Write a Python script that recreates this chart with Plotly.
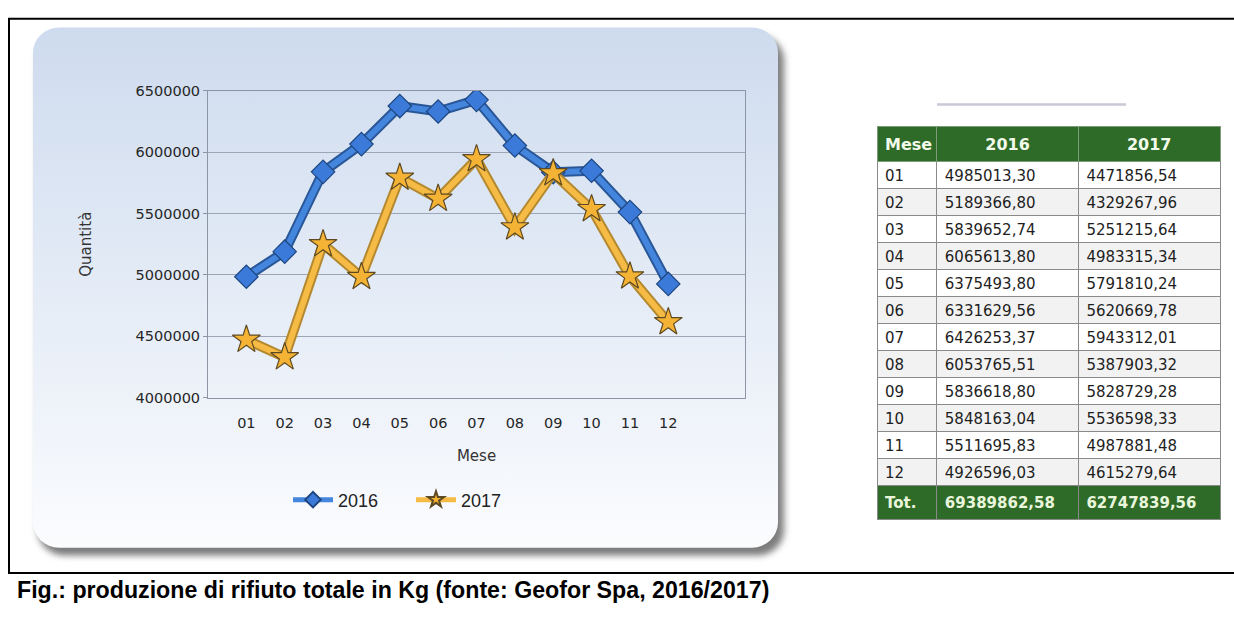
import base64
import plotly.graph_objects as go

W, H = 1234, 618

# Monthly waste production (kg)
months = ["01", "02", "03", "04", "05", "06", "07", "08", "09", "10", "11", "12"]
q2016 = [4985013.30, 5189366.80, 5839652.74, 6065613.80, 6375493.80, 6331629.56,
         6426253.37, 6053765.51, 5836618.80, 5848163.04, 5511695.83, 4926596.03]
q2017 = [4471856.54, 4329267.96, 5251215.64, 4983315.34, 5791810.24, 5620669.78,
         5943312.01, 5387903.32, 5828729.28, 5536598.33, 4987881.48, 4615279.64]
years = ["2016", "2017"]
y_ticks = [4000000, 4500000, 5000000, 5500000, 6000000, 6500000]
caption = "Fig.: produzione di rifiuto totale in Kg (fonte: Geofor Spa, 2016/2017)"


def px(x):
    return x / W


def py(y):
    return 1 - y / H


def fmt(v):
    return f"{v:.2f}".replace(".", ",")


def bold(s):
    return "<b>" + s + "</b>"


xpos = [i + 1 for i in range(len(months))]

fig = go.Figure()

# 2016: dark outline under a lighter line, diamond markers
fig.add_trace(go.Scatter(x=xpos, y=q2016, mode="lines", showlegend=False,
                         line=dict(color="#2a5797", width=10), hoverinfo="skip"))
fig.add_trace(go.Scatter(x=xpos, y=q2016, mode="lines+markers", name=years[0],
                         line=dict(color="#4485de", width=6),
                         marker=dict(symbol="diamond", size=18, color="#3b7ad8",
                                     line=dict(color="#1d4680", width=1.2))))
# 2017: orange line, star markers
fig.add_trace(go.Scatter(x=xpos, y=q2017, mode="lines", showlegend=False,
                         line=dict(color="#b4892f", width=10), hoverinfo="skip"))
fig.add_trace(go.Scatter(x=xpos, y=q2017, mode="lines+markers", name=years[1],
                         line=dict(color="#f6bb45", width=6),
                         marker=dict(symbol="star", size=21, color="#f5b336",
                                     line=dict(color="#5e4a22", width=1.2))))

# Side table
rows_mese = months + [bold("Tot.")]
col16 = [fmt(v) for v in q2016] + [bold(fmt(round(sum(q2016), 2)))]
col17 = [fmt(v) for v in q2017] + [bold(fmt(round(sum(q2017), 2)))]
green = "#2e6b28"
row_fill = [("#ffffff" if i % 2 == 0 else "#f2f2f2") for i in range(len(months))] + [green]
row_font = ["#1e1e1e"] * len(months) + ["#eaf6dc"]

fig.add_trace(go.Table(
    domain=dict(x=[px(877), px(1221)], y=[py(560), py(122)]),
    columnwidth=[60, 142, 142],
    header=dict(values=[bold("Mese"), bold(years[0]), bold(years[1])],
                fill_color=green, align=["left", "center", "center"],
                font=dict(family="DejaVu Sans", size=16, color="#f2faea"),
                line=dict(color="#7f9a7a", width=1), height=24),
    cells=dict(values=[rows_mese, col16, col17],
               fill_color=[row_fill] * 3, align="left",
               font=dict(family="DejaVu Sans", size=15, color=[row_font] * 3),
               line=dict(color="#8a8a8a", width=1), height=27),
))

# Rounded panel with gradient and drop shadow behind the chart
svg = f'''<svg xmlns="http://www.w3.org/2000/svg" width="{W}" height="{H}" viewBox="0 0 {W} {H}">
<defs>
<linearGradient id="g" x1="0" y1="0" x2="0" y2="1">
<stop offset="0" stop-color="#cedbee"/><stop offset="0.55" stop-color="#e6edf7"/><stop offset="1" stop-color="#fbfcfe"/>
</linearGradient>
<filter id="s" x="-5%" y="-5%" width="112%" height="115%"><feGaussianBlur stdDeviation="3.5"/></filter>
</defs>
<rect x="38" y="28" width="746" height="534" rx="26" fill="#7d7d7d" filter="url(#s)"/>
<rect x="33" y="20" width="745" height="534" rx="26" fill="url(#g)"/>
<line x1="937" y1="99" x2="1126" y2="99" stroke="#c9c9d6" stroke-width="2.5"/>
</svg>'''
src = "data:image/svg+xml;base64," + base64.b64encode(svg.encode()).decode()

grid = "#9ea6b6"
axis_font = dict(family="DejaVu Sans", size=14.5, color="#262626")
title_font = dict(family="DejaVu Sans", size=15, color="#333")

fig.update_layout(
    width=W, height=H,
    margin=dict(l=0, r=0, t=0, b=0),
    paper_bgcolor="white", plot_bgcolor="rgba(0,0,0,0)",
    images=[dict(source=src, xref="paper", yref="paper", x=0, y=1, sizex=1, sizey=1,
                 xanchor="left", yanchor="top", sizing="stretch", layer="below")],
    xaxis=dict(domain=[px(208), px(745)], range=[0, 14], tickmode="array",
               tickvals=xpos, ticktext=months, showgrid=False, zeroline=False,
               showline=True, linecolor="#8d94a3", mirror=True, ticks="",
               ticklabelstandoff=12, tickfont=axis_font,
               title=dict(text="Mese", font=title_font, standoff=20)),
    xaxis2=dict(overlaying="x", domain=[px(208), px(745)], range=[0, 14], dtick=2, tick0=0,
                showgrid=True, gridcolor=grid, gridwidth=1, showticklabels=False,
                zeroline=False, anchor="y"),
    yaxis=dict(domain=[py(400), py(85)], range=[4000000, 6500000], tickmode="array",
               tickvals=y_ticks, tickformat="d", showgrid=True, gridcolor=grid,
               zeroline=False, showline=True, linecolor="#8d94a3", mirror=True,
               ticks="outside", ticklen=4, tickcolor="#8d94a3", tickfont=axis_font,
               title=dict(text="Quantità", font=title_font, standoff=40)),
    legend=dict(orientation="h", x=px(288), y=py(505), xanchor="left", yanchor="middle",
                bgcolor="rgba(0,0,0,0)", itemsizing="constant",
                font=dict(family="Liberation Sans Narrow, Liberation Sans", size=18, color="#222"),
                itemwidth=40, entrywidth=68),
    annotations=[dict(text="<b>" + caption + "</b>", xref="paper", yref="paper",
                      x=px(15), y=py(597), xanchor="left", yanchor="middle", showarrow=False,
                      font=dict(family="Liberation Sans", size=23.2, color="black"))],
    shapes=[
        dict(type="line", xref="paper", yref="paper", x0=px(8), x1=1, y0=py(11), y1=py(11),
             line=dict(color="black", width=2)),
        dict(type="line", xref="paper", yref="paper", x0=px(9), x1=px(9), y0=py(11), y1=py(580),
             line=dict(color="black", width=2)),
        dict(type="line", xref="paper", yref="paper", x0=px(8), x1=1, y0=py(580), y1=py(580),
             line=dict(color="black", width=2)),
    ],
)

fig.write_html("out.html")
